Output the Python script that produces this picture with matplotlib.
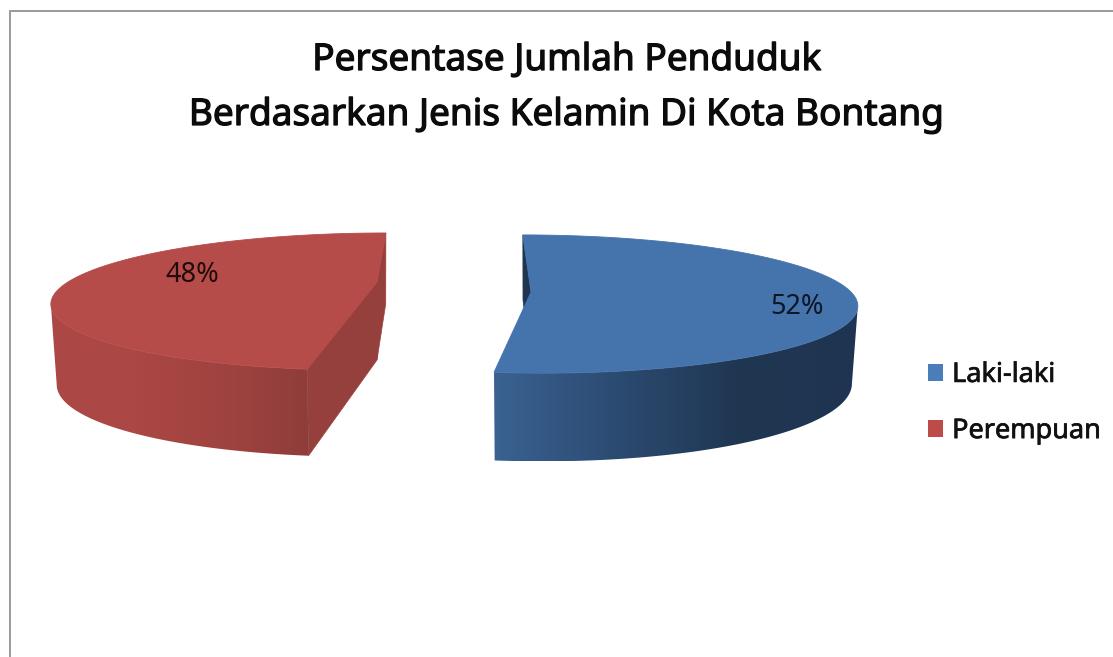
import numpy as np
import matplotlib
matplotlib.use("Agg")
import matplotlib.pyplot as plt
import matplotlib.patheffects as pe
from matplotlib.colors import LinearSegmentedColormap
from matplotlib.patches import Patch, Polygon

WIDTH, HEIGHT = 1113, 657

title_lines = ["Persentase Jumlah Penduduk", "Berdasarkan Jenis Kelamin Di Kota Bontang"]
categories = ["Laki-laki", "Perempuan"]
shares = [52, 48]
share_labels = ["52%", "48%"]

plt.rcParams["font.family"] = ["Noto Sans", "DejaVu Sans"]

fig = plt.figure(figsize=(WIDTH / 100, HEIGHT / 100), dpi=100, facecolor="white")
ax = fig.add_axes([0, 0, 1, 1])
ax.set_xlim(0, WIDTH)
ax.set_ylim(HEIGHT, 0)
ax.axis("off")

# Chart frame, cut off by the right and bottom edges of the image
ax.plot([10, 10, WIDTH], [HEIGHT, 11, 11], color="#9a9a9a", lw=1.4,
        solid_joinstyle="miter")


def heavier(width, color):
    """Outline that thickens a text's strokes a little."""
    return [pe.withStroke(linewidth=width, foreground=color)]


def project(theta, apex, s, t, k, xc, depth, k_depth, drop=False):
    """Perspective projection of rim points at clockwise angle theta (0 = back)."""
    px = np.sin(theta)
    py = -np.cos(theta)
    denom = 1 - k * py
    x = apex[0] + (px * s + xc) / denom - xc
    y = apex[1] + py * t / denom
    if drop:
        # The lower rim sits further away, so it is slightly narrower
        x = apex[0] + (x - apex[0]) * 0.982
        y = y + depth / (1 - k_depth * py)
    return x, y


def gradient_fill(verts, stops, zorder):
    xs = [v[0] for v in verts]
    ys = [v[1] for v in verts]
    cmap = LinearSegmentedColormap.from_list("wall", stops)
    im = ax.imshow(np.linspace(0, 1, 256).reshape(1, -1), cmap=cmap, aspect="auto",
                   extent=[min(xs), max(xs), max(ys), min(ys)], zorder=zorder)
    clip = Polygon(verts, closed=True, transform=ax.transData, fc="none", ec="none")
    ax.add_patch(clip)
    im.set_clip_path(clip)
    ax.set_xlim(0, WIDTH)
    ax.set_ylim(HEIGHT, 0)


def draw_slice(start, stop, geom, top_color, radial_color, wall_stops, front_angle, show_front_cut):
    theta = np.linspace(start, stop, 360)
    tx, ty = project(theta, **geom)
    bx, by = project(theta, drop=True, **geom)
    ax0, ay0 = geom["apex"]
    a_top = (ax0, ay0)
    a_bot = (ax0, ay0 + geom["depth"])

    # Straight cut faces at either end of the sweep
    for i in (0, -1):
        at_front = np.isclose(theta[i], front_angle)
        if at_front and not show_front_cut:
            continue
        ax.add_patch(Polygon([a_top, (tx[i], ty[i]), (bx[i], by[i]), a_bot], closed=True,
                             fc=radial_color, ec=radial_color, lw=0.5, zorder=2))

    # Curved outer wall: only the front part, from the cut to the silhouette
    if show_front_cut:
        stop_idx = int(np.argmin(tx))
        idx = np.arange(0, stop_idx + 1)
    else:
        start_idx = int(np.argmax(tx))
        idx = np.arange(start_idx, len(theta))
    wall = list(zip(tx[idx], ty[idx])) + list(zip(bx[idx][::-1], by[idx][::-1]))
    gradient_fill(wall, wall_stops, zorder=3)

    # Upper face of the slice
    top = [a_top] + list(zip(tx, ty))
    ax.add_patch(Polygon(top, closed=True, fc=top_color, ec=top_color, lw=0.6, zorder=4))


fractions = np.array(shares) / sum(shares)
boundary = 2 * np.pi * fractions[0]

# First category: clockwise from the back of the pie
draw_slice(
    0.0, boundary,
    dict(apex=(531, 292), s=320, t=67, k=0.174, xc=55, depth=75, k_depth=0.15),
    "#4574ad", "#1f3550",
    ["#3a6292", "#2c4b72", "#203752", "#1f3451"],
    front_angle=boundary, show_front_cut=False,
)
# Second category: takes the remaining sweep
draw_slice(
    boundary, 2 * np.pi,
    dict(apex=(377, 282), s=309, t=63, k=0.285, xc=-40, depth=78, k_depth=0.10),
    "#b64c49", "#96403d",
    ["#ac4845", "#ab4744", "#a04340", "#8f3d3a"],
    front_angle=boundary, show_front_cut=True,
)

# Percentage labels on the slices
ax.text(797, 307, share_labels[0], ha="center", va="center", fontsize=19.5, color="#0d1526",
        zorder=5)
ax.text(192, 275, share_labels[1], ha="center", va="center", fontsize=19.5, color="#220b0b",
        zorder=5)

# Title
for y, line in zip((61, 116), title_lines):
    ax.text(566.5, y, line, ha="center", va="center", fontsize=26.6, color="#0b0b0b",
            path_effects=heavier(0.9, "#0b0b0b"))

# Legend
handles = [Patch(fc="#4a7ebb", ec="none"), Patch(fc="#be4b48", ec="none")]
legend = ax.legend(handles, categories, loc="center left",
                   bbox_to_anchor=(928 / WIDTH, 1 - 403 / HEIGHT),
                   bbox_transform=fig.transFigure, frameon=False, fontsize=19.5,
                   labelcolor="#111111", handlelength=0.56, handleheight=0.56,
                   handletextpad=0.33, labelspacing=1.04, borderpad=0, borderaxespad=0)
for label in legend.get_texts():
    label.set_path_effects(heavier(0.5, "#111111"))

fig.savefig("out.png", dpi=100, facecolor="white")
